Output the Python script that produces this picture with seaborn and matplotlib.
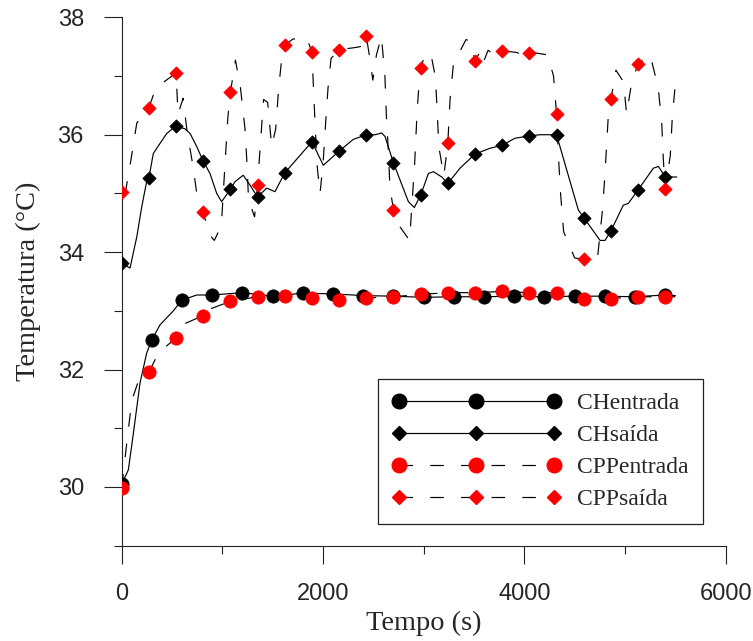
import matplotlib
matplotlib.use("Agg")
import matplotlib.pyplot as plt
from matplotlib.lines import Line2D
from matplotlib.ticker import MultipleLocator
import seaborn as sns
import pandas as pd

# ---------------- data ----------------
# marker times (s)
t_mk_ch_in = [0, 300, 600, 900, 1200, 1500, 1800, 2100, 2400, 2700, 3000,
              3300, 3600, 3900, 4200, 4500, 4800, 5100, 5400]
t_mk = [0, 270, 540, 810, 1080, 1350, 1620, 1890, 2160, 2430, 2700, 2970,
        3240, 3510, 3780, 4050, 4320, 4590, 4860, 5130, 5400]

ch_in_mk = [30.05, 32.50, 33.18, 33.27, 33.31, 33.25, 33.30, 33.29, 33.26, 33.25,
            33.23, 33.24, 33.24, 33.25, 33.24, 33.25, 33.25, 33.24, 33.27]
ch_out_mk = [33.81, 35.26, 36.15, 35.55, 35.07, 34.94, 35.35, 35.88, 35.72, 36.00,
             35.52, 34.97, 35.17, 35.67, 35.82, 35.98, 36.00, 34.59, 34.36, 35.06, 35.28]
cpp_in_mk = [29.99, 31.96, 32.53, 32.92, 33.16, 33.24, 33.25, 33.22, 33.18, 33.22,
             33.24, 33.29, 33.31, 33.31, 33.33, 33.31, 33.31, 33.21, 33.21, 33.24, 33.24]
cpp_out_mk = [35.03, 36.46, 37.05, 34.68, 36.72, 35.14, 37.52, 37.41, 37.45, 37.68,
              34.72, 37.14, 35.86, 37.26, 37.43, 37.40, 36.36, 33.88, 36.60, 37.20, 35.07]

# line traces (s, degC)
ch_in_t = [0, 66, 116, 182, 248, 298, 380, 513, 596, 745, 900, 1198, 1500, 1794,
           2096, 2394, 2699, 2996, 3294, 3600, 3900, 4196, 4494, 4792, 5090, 5400, 5500]
ch_in_y = [30.05, 30.29, 30.91, 31.77, 32.28, 32.50, 32.76, 33.00, 33.18, 33.27,
           33.27, 33.31, 33.25, 33.30, 33.29, 33.26, 33.25, 33.23, 33.24, 33.24,
           33.25, 33.24, 33.25, 33.25, 33.24, 33.27, 33.26]

ch_out_t = [0, 83, 150, 199, 248, 270, 314, 380, 447, 540, 629, 680, 745, 810, 877,
            944, 993, 1080, 1125, 1208, 1275, 1350, 1440, 1523, 1620, 1890, 2003,
            2160, 2300, 2430, 2517, 2583, 2616, 2700, 2765, 2848, 2907, 2970, 3047,
            3097, 3180, 3240, 3361, 3510, 3660, 3780, 3907, 4050, 4156, 4320, 4421,
            4536, 4590, 4752, 4802, 4860, 4983, 5033, 5130, 5282, 5332, 5400, 5514]
ch_out_y = [33.81, 33.73, 34.26, 34.77, 35.20, 35.26, 35.68, 35.85, 36.02, 36.15,
            36.10, 36.02, 35.80, 35.55, 35.34, 35.00, 34.86, 35.07, 35.20, 35.31,
            35.14, 34.94, 35.09, 35.03, 35.35, 35.88, 35.48, 35.72, 35.92, 36.00,
            36.00, 36.03, 35.97, 35.52, 35.23, 34.86, 34.76, 34.97, 35.34, 35.37,
            35.28, 35.17, 35.43, 35.67, 35.77, 35.82, 35.94, 35.98, 36.00, 36.00,
            35.40, 34.72, 34.59, 34.20, 34.20, 34.36, 34.80, 34.83, 35.06, 35.43,
            35.46, 35.28, 35.28]

cpp_in_t = [0, 50, 100, 165, 272, 350, 430, 536, 600, 650, 811, 845, 1076, 1347,
            1612, 1888, 2159, 2427, 2698, 2970, 3239, 3510, 3775, 4046, 4315, 4586,
            4858, 5122, 5398, 5500]
cpp_in_y = [29.99, 30.74, 31.47, 31.80, 31.96, 32.23, 32.38, 32.53, 32.76, 32.80,
            32.92, 33.01, 33.16, 33.24, 33.25, 33.22, 33.18, 33.22, 33.24, 33.28,
            33.31, 33.31, 33.33, 33.31, 33.31, 33.21, 33.21, 33.24, 33.24, 33.24]

cpp_out_t = [0, 40, 90, 150, 270, 330, 380, 540, 560, 610, 650, 705, 750, 810, 870,
             920, 990, 1030, 1055, 1080, 1130, 1180, 1225, 1245, 1260, 1320, 1350,
             1380, 1410, 1450, 1490, 1530, 1560, 1590, 1620, 1700, 1840, 1890, 1910,
             1940, 1970, 2000, 2030, 2050, 2080, 2160, 2300, 2370, 2430, 2465, 2495,
             2530, 2580, 2615, 2630, 2650, 2665, 2700, 2765, 2860, 2910, 2935, 2955,
             2970, 3020, 3080, 3115, 3135, 3150, 3200, 3240, 3262, 3295, 3420, 3460,
             3480, 3510, 3560, 3590, 3640, 3700, 3780, 3930, 3990, 4050, 4230, 4290,
             4320, 4340, 4360, 4390, 4500, 4590, 4730, 4775, 4800, 4820, 4840, 4860,
             4910, 4985, 5016, 5067, 5130, 5250, 5330, 5365, 5380, 5400, 5450, 5470,
             5510]
cpp_out_y = [35.03, 35.05, 35.55, 36.20, 36.46, 36.75, 36.85, 37.05, 36.35, 36.62,
             36.05, 35.50, 34.95, 34.68, 34.30, 34.20, 34.45, 35.60, 36.30, 36.72,
             37.27, 36.80, 36.10, 35.50, 34.90, 34.60, 35.14, 35.90, 36.60, 36.55,
             35.80, 36.10, 36.80, 37.30, 37.52, 37.63, 37.64, 37.41, 36.60, 35.50,
             35.00, 35.50, 36.30, 36.80, 37.30, 37.45, 37.48, 37.50, 37.68, 37.30,
             36.93, 37.35, 37.68, 37.00, 36.30, 35.70, 35.10, 34.72, 34.43, 34.20,
             35.50, 36.40, 36.90, 37.14, 37.40, 37.30, 37.00, 36.40, 35.80, 35.30,
             35.86, 36.60, 37.20, 37.62, 37.60, 37.45, 37.26, 37.41, 37.22, 37.44,
             37.36, 37.43, 37.40, 37.32, 37.41, 37.36, 37.00, 36.36, 35.60, 35.00,
             34.35, 33.90, 33.88, 33.95, 34.70, 35.30, 35.90, 36.50, 36.60, 37.10,
             36.90, 36.35, 36.90, 37.20, 37.36, 36.80, 36.20, 35.60, 35.07, 35.65,
             36.30, 37.05]

labels = ["CHentrada", "CHsaída", "CPPentrada", "CPPsaída"]

# ---------------- style ----------------
sns.set_style("ticks")
plt.rcParams["font.family"] = ["Liberation Sans", "DejaVu Sans"]
serif = ["Liberation Serif", "DejaVu Serif"]

fig = plt.figure(figsize=(7.53, 6.41), dpi=100)
ax = fig.add_axes([0.1616, 0.1487, 0.8021, 0.8243])

RED = "#ff0000"
BLK = "#000000"
DASH = (0, (11.5, 14.5))
LW = 0.85

series = [
    (ch_in_t, ch_in_y, t_mk_ch_in, ch_in_mk, BLK, "-", "o", 9.6),
    (ch_out_t, ch_out_y, t_mk, ch_out_mk, BLK, "-", "D", 6.8),
    (cpp_in_t, cpp_in_y, t_mk, cpp_in_mk, RED, DASH, "o", 9.6),
    (cpp_out_t, cpp_out_y, t_mk, cpp_out_mk, RED, DASH, "D", 6.8),
]

z = 2
for lt, ly, mt, my, col, ls, mk, ms in series:
    sns.lineplot(x=lt, y=ly, ax=ax, color=BLK, linewidth=LW, linestyle=ls,
                 estimator=None, sort=False, zorder=z)
    sns.scatterplot(x=mt, y=my, ax=ax, color=col, marker=mk, s=ms ** 2,
                    edgecolor=col, linewidth=0.5, zorder=z + 1)
    z += 2

ax.set_xlim(0, 6000)
ax.set_ylim(29, 38)
ax.xaxis.set_major_locator(MultipleLocator(2000))
ax.xaxis.set_minor_locator(MultipleLocator(1000))
ax.yaxis.set_major_locator(MultipleLocator(2))
ax.yaxis.set_minor_locator(MultipleLocator(1))
ax.tick_params(which="major", direction="out", length=12.7, width=0.8,
               labelsize=17, pad=14.5, color="#222222")
ax.tick_params(which="minor", direction="out", length=6, width=0.8,
               color="#222222")
for s in ["top", "right"]:
    ax.spines[s].set_visible(False)
for s in ["left", "bottom"]:
    ax.spines[s].set_linewidth(0.8)
    ax.spines[s].set_color("#222222")

ax.set_xlabel("Tempo (s)", fontsize=20.4, family=serif, labelpad=4)
ax.set_ylabel("Temperatura (°C)", fontsize=20.4, family=serif, labelpad=12)

handles = [
    Line2D([], [], color=BLK, lw=LW, linestyle="-", marker="o", markersize=10.5,
           markerfacecolor=BLK, markeredgecolor=BLK),
    Line2D([], [], color=BLK, lw=LW, linestyle="-", marker="D", markersize=6.8,
           markerfacecolor=BLK, markeredgecolor=BLK),
    Line2D([], [], color=BLK, lw=LW, linestyle=DASH, marker="o", markersize=10.5,
           markerfacecolor=RED, markeredgecolor=RED),
    Line2D([], [], color=BLK, lw=LW, linestyle=DASH, marker="D", markersize=6.8,
           markerfacecolor=RED, markeredgecolor=RED),
]
leg = ax.legend(handles, labels, loc="lower left", bbox_to_anchor=(0.4238, 0.0405),
                borderaxespad=0, numpoints=3, handlelength=7.15, handletextpad=0.7,
                borderpad=0.6, labelspacing=0.44, fancybox=False, framealpha=1,
                edgecolor="#222222", prop={"family": serif, "size": 17})
leg.get_frame().set_linewidth(0.9)

fig.savefig("out.png", dpi=100)
